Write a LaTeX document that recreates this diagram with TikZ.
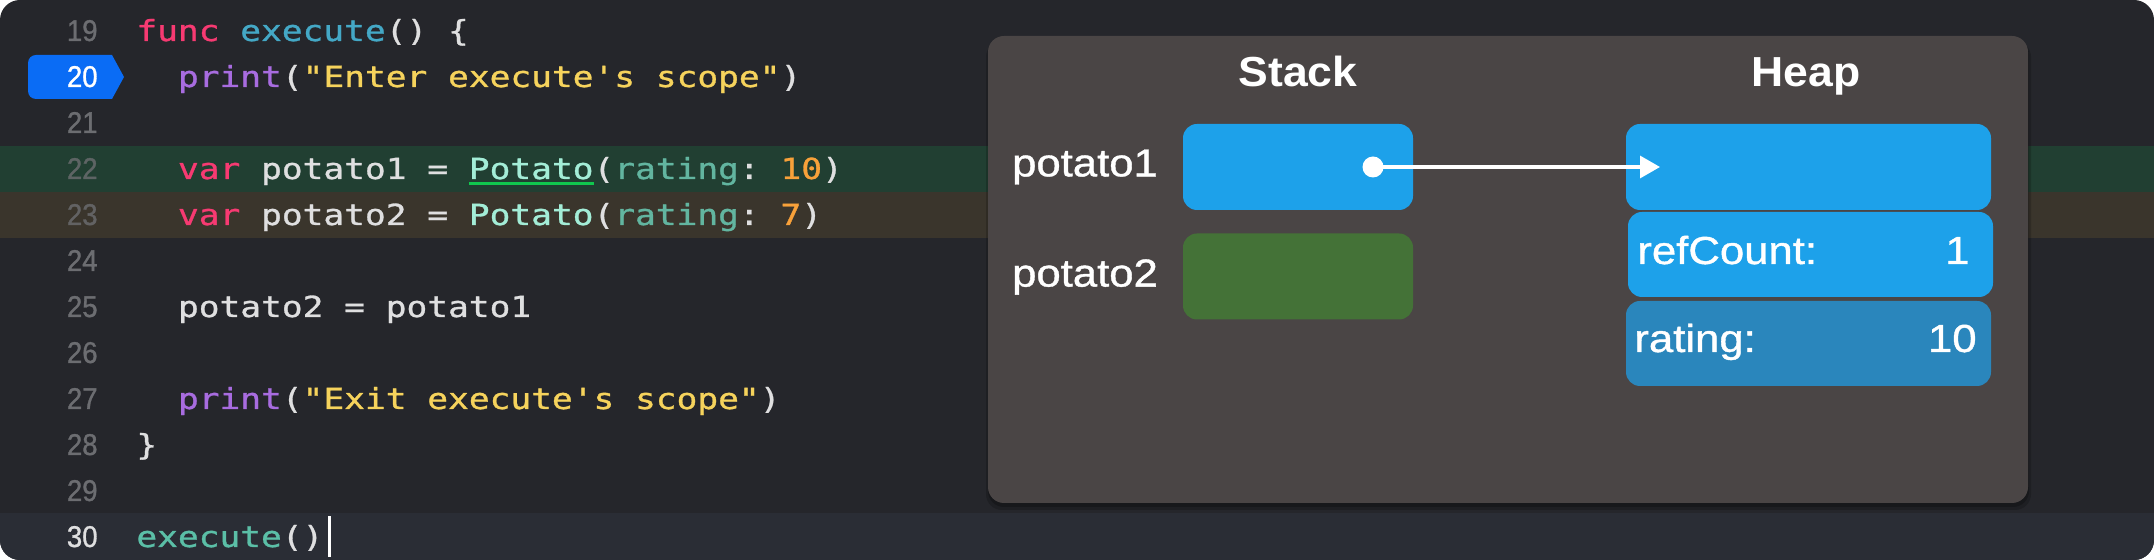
\documentclass[tikz,border=0pt]{standalone}
\usepackage{fontspec}
\setmonofont{DejaVu Sans Mono}[FakeStretch=1.19,FakeBold=1]
\newfontfamily\lblfont{Liberation Sans}[FakeStretch=1.12,FakeBold=1]
\newfontfamily\hdrfont{Liberation Sans Bold}[FakeStretch=1.06]
\newfontfamily\numfont{Liberation Sans}[FakeStretch=0.92,FakeBold=1]
\usetikzlibrary{arrows.meta}
\definecolor{bg}{HTML}{25262B}
\definecolor{band22}{HTML}{213F32}
\definecolor{band23}{HTML}{3A352C}
\definecolor{band30}{HTML}{2A2D35}
\definecolor{panelc}{HTML}{4A4545}
\definecolor{bluebox}{HTML}{1DA1EA}
\definecolor{ratbox}{HTML}{2A86BC}
\definecolor{greenbox}{HTML}{447237}
\definecolor{badge}{HTML}{0A6CF5}
\definecolor{lngray}{HTML}{6C6D71}
\definecolor{plain}{HTML}{DFDFE0}
\definecolor{kw}{HTML}{F73A72}
\definecolor{decl}{HTML}{44A8C6}
\definecolor{fn}{HTML}{A86CE0}
\definecolor{str}{HTML}{F6D35C}
\definecolor{typ}{HTML}{A3EDD7}
\definecolor{param}{HTML}{62B5A0}
\definecolor{num}{HTML}{F8A13A}
\definecolor{call}{HTML}{5BBFA7}
\definecolor{ulc}{HTML}{10C84E}
\newsavebox\potbox
\newcommand\ulpot{\sbox\potbox{Potato}\rlap{\color{ulc}\rule[-3pt]{\wd\potbox}{1.35pt}}\textcolor{typ}{Potato}}
\tikzset{
  code/.style={anchor=base west, inner sep=0pt, text=plain, font=\ttfamily\fontsize{14.5}{16}\selectfont},
  lnum/.style={anchor=base east, inner sep=0pt, text=lngray, font=\numfont\fontsize{15}{17}\selectfont},
  membox/.style={rounded corners=7pt, minimum height=43pt, inner sep=0pt},
  lbl/.style={inner sep=0pt, text=white, font=\lblfont\fontsize{19.5}{22}\selectfont},
  hdr/.style={anchor=base, inner sep=0pt, text=white, font=\hdrfont\fontsize{21}{24}\selectfont},
  arrowline/.style={draw=white, line width=1.65pt, -{Triangle[length=10pt,width=11pt]}}
}
\begin{document}
\begin{tikzpicture}[x=0.5pt,y=-0.5pt]
\useasboundingbox (0,0) rectangle (2154,560);
\fill[white] (0,0) rectangle (2154,560);
\begin{scope}
  \clip[rounded corners=10pt] (0,0) rectangle (2154,560);
  \fill[bg] (0,0) rectangle (2154,560);
  \fill[band22] (0,146) rectangle (2154,192);
  \fill[band23] (0,192) rectangle (2154,238);
  \fill[band30] (0,513) rectangle (2154,560);
\end{scope}
% breakpoint badge
\fill[badge] (124,77) -- (112,55) [rounded corners=4pt] -- (28,55) -- (28,99) [sharp corners] -- (112,99) -- cycle;
% line numbers
\node[lnum] (n19) at (98,41) {19};
\node[lnum,text=white] (n20) at (98,87) {20};
\node[lnum] (n21) at (98,133) {21};
\node[lnum,text=lngray!80!band22] (n22) at (98,179) {22};
\node[lnum,text=lngray!80!band23] (n23) at (98,225) {23};
\node[lnum] (n24) at (98,271) {24};
\node[lnum] (n25) at (98,317) {25};
\node[lnum] (n26) at (98,363) {26};
\node[lnum] (n27) at (98,409) {27};
\node[lnum] (n28) at (98,455) {28};
\node[lnum] (n29) at (98,501) {29};
\node[lnum,text=plain] (n30) at (98,547) {30};
% code
\node[code] (c19) at (136,41) {\textcolor{kw}{func} \textcolor{decl}{execute}() \{};
\node[code] (c20) at (177.6,87) {\textcolor{fn}{print}(\textcolor{str}{"Enter execute's scope"})};
\node[code] (c22) at (177.6,179) {\textcolor{kw}{var} potato1 = \ulpot(\textcolor{param}{rating}: \textcolor{num}{10})};
\node[code] (c23) at (177.6,225) {\textcolor{kw}{var} potato2 = \textcolor{typ}{Potato}(\textcolor{param}{rating}: \textcolor{num}{7})};
\node[code] (c25) at (177.6,317) {potato2 = potato1};
\node[code] (c27) at (177.6,409) {\textcolor{fn}{print}(\textcolor{str}{"Exit execute's scope"})};
\node[code] (c28) at (136,455) {\}};
\node[code] (c30) at (136,547) {\textcolor{call}{execute}()};
\fill[white] (c30.base east) ++(4,-31) rectangle ++(3,41);
% panel with shadow
\fill[black,opacity=0.18,rounded corners=8pt] (986,41) rectangle (2031,510);
\fill[black,opacity=0.22,rounded corners=8pt] (988,39) rectangle (2029,507);
\fill[panelc,rounded corners=8pt] (988,36) rectangle (2028,503);
% headers
\node[hdr] (stack) at (1298,87) {Stack};
\node[hdr] (heap) at (1806,87) {Heap};
% stack
\node[lbl] (l1) at (1085,167) {potato1};
\node[lbl] (l2) at (1085,277) {potato2};
\node[membox,fill=bluebox,minimum width=115pt] (p1box) at (1298,167) {};
\node[membox,fill=greenbox,minimum width=115pt] (p2box) at (1298,276.5) {};
% heap
\node[membox,fill=bluebox,minimum width=182.5pt] (hobj) at (1808.5,167) {};
\node[membox,fill=bluebox,minimum width=182.5pt,minimum height=42.5pt] (hrc) at (1810.5,254.5) {};
\node[membox,fill=ratbox,minimum width=182.5pt,minimum height=42.5pt] (hrat) at (1808.5,343.5) {};
\node[lbl,anchor=base west] (rclbl) at (1637,264) {refCount:};
\node[lbl,anchor=base east] (rcval) at (1970,264) {1};
\node[lbl,anchor=base west] (ratlbl) at (1634,352) {rating:};
\node[lbl,anchor=base east] (ratval) at (1977,352) {10};
% pointer
\node[circle,fill=white,minimum size=10.5pt,inner sep=0pt] (dot) at (1373,167) {};
\coordinate (tip) at (1660,167);
\draw[arrowline] (dot.center) -- (tip);
\end{tikzpicture}
\end{document}
